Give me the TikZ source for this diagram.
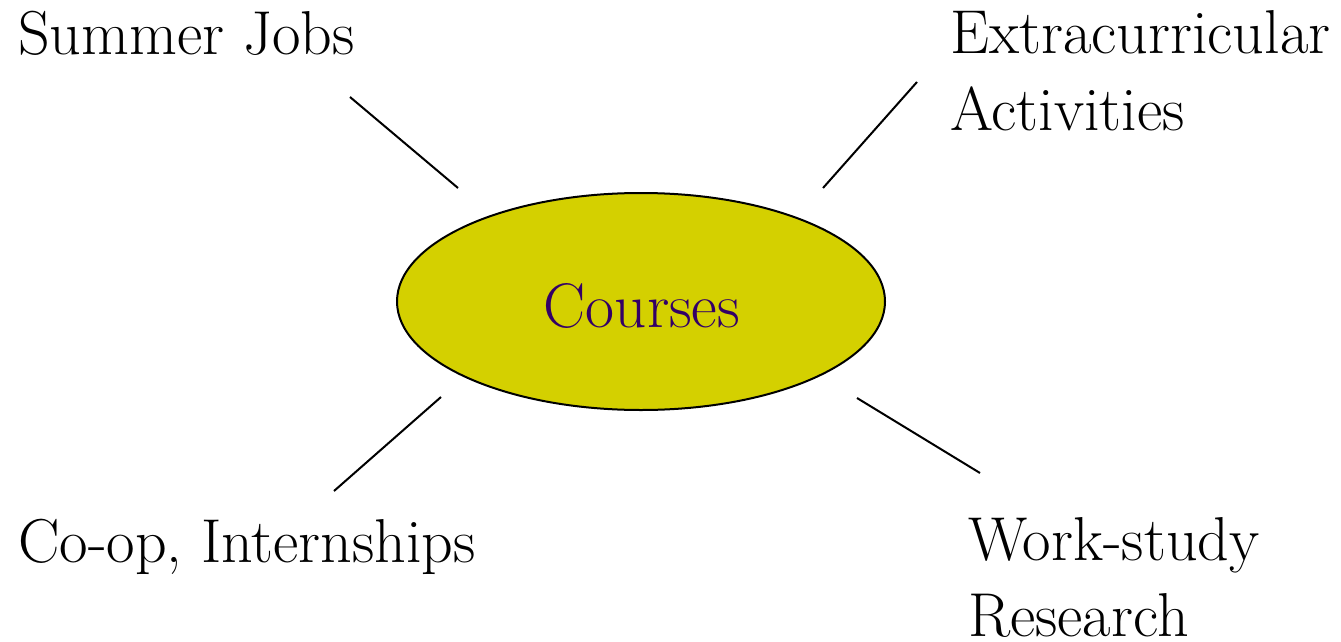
\documentclass[tikz,border=0pt]{standalone}
\usetikzlibrary{shapes.geometric}
\definecolor{ellfill}{HTML}{D4D000}
\definecolor{coursecol}{HTML}{330066}
\begin{document}
\begin{tikzpicture}[x=1pt,y=1pt,
  lbl/.style={anchor=base west,inner sep=0pt,font=\fontsize{62}{77}\selectfont},
  spoke/.style={draw=black,line width=2pt}]
\useasboundingbox (0,0) rectangle (1341,-642);
\node[ellipse,draw=black,line width=2pt,fill=ellfill,minimum width=488,minimum height=217,inner sep=0pt] (courses) at (641,-301.5) {};
\node[anchor=base,inner sep=0pt,text=coursecol,font=\fontsize{63}{77}\selectfont] (ctext) at (642,-327) {Courses};
\node[lbl] (summer) at (18,-55) {Summer Jobs};
\node[lbl] (extra1) at (950,-53) {Extracurricular};
\node[lbl] (extra2) at (950,-130) {Activities};
\node[lbl] (coop) at (18,-562) {Co-op, Internships};
\node[lbl] (work1) at (968,-560) {Work-study};
\node[lbl] (work2) at (968,-636) {Research};
\coordinate (s1) at (350,-97);
\coordinate (s2) at (458,-188);
\coordinate (e1) at (917,-82);
\coordinate (e2) at (823,-188);
\coordinate (c1) at (441,-397);
\coordinate (c2) at (334,-491);
\coordinate (w1) at (857,-398);
\coordinate (w2) at (980,-473);
\draw[spoke] (s1) -- (s2);
\draw[spoke] (e1) -- (e2);
\draw[spoke] (c1) -- (c2);
\draw[spoke] (w1) -- (w2);
\end{tikzpicture}
\end{document}
